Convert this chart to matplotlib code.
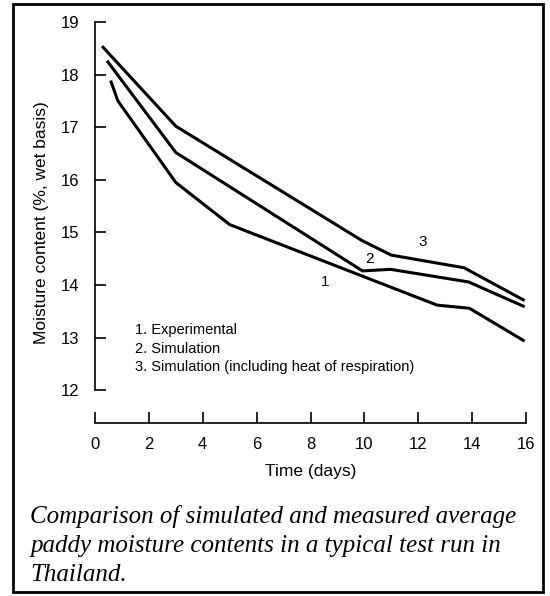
import matplotlib.pyplot as plt
from matplotlib.patches import Rectangle

# Curves (days, % moisture wet basis)
days_exp = [0.6, 0.85, 3.0, 5.0, 12.7, 13.9, 15.9]
mc_exp = [17.86, 17.5, 15.95, 15.15, 13.62, 13.56, 12.95]

days_sim = [0.48, 3.0, 9.93, 10.97, 13.87, 15.9]
mc_sim = [18.24, 16.52, 14.27, 14.30, 14.06, 13.6]

days_resp = [0.3, 3.0, 9.9, 11.0, 13.7, 15.9]
mc_resp = [18.52, 17.02, 14.85, 14.57, 14.33, 13.72]

curve_labels = ['1', '2', '3']
label_pos = [(8.55, 14.05), (10.2, 14.5), (12.15, 14.82)]
legend_lines = ['1. Experimental', '2. Simulation',
                '3. Simulation (including heat of respiration)']
caption = ['Comparison of simulated and measured average',
           'paddy moisture contents in a typical test run in',
           'Thailand.']

fig = plt.figure(figsize=(5.5, 5.96), dpi=100)
plt.rcParams['font.family'] = ['Liberation Sans', 'DejaVu Sans']

# page border
fig.patches.append(Rectangle((13 / 550, 4 / 596), 530 / 550, 588 / 596,
                             transform=fig.transFigure, fill=False,
                             edgecolor='black', linewidth=2))

ax = fig.add_axes([95 / 550, 1 - 423 / 596, 431 / 550, 401 / 596])
ax.plot(days_exp, mc_exp, color='black', linewidth=2.2)
ax.plot(days_sim, mc_sim, color='black', linewidth=2.2)
ax.plot(days_resp, mc_resp, color='black', linewidth=2.2)

for lab, (x, y) in zip(curve_labels, label_pos):
    ax.text(x, y, lab, fontsize=11, ha='center', va='center')

for i, line in enumerate(legend_lines):
    ax.text(1.49, 13.14 - i * 0.35, line, fontsize=10.5, ha='left', va='center')

ax.set_xlim(0, 16)
ax.set_ylim(11.38, 19)
ax.set_xticks(range(0, 17, 2))
ax.set_yticks(range(12, 20))
ax.spines['top'].set_visible(False)
ax.spines['right'].set_visible(False)
ax.spines['left'].set_bounds(12, 19)
ax.spines['left'].set_linewidth(1.2)
ax.spines['bottom'].set_linewidth(1.2)
ax.tick_params(axis='both', direction='in', length=8, width=1.2,
               labelsize=12)
ax.tick_params(axis='y', pad=11)
ax.tick_params(axis='x', pad=10)
ax.set_ylabel('Moisture content (%, wet basis)', fontsize=12.5, labelpad=9)
ax.set_xlabel('Time (days)', fontsize=12.5, labelpad=9)

for i, line in enumerate(caption):
    fig.text(30 / 550, 1 - (517 + i * 29) / 596, line, fontsize=18,
             family='Liberation Serif', style='italic', va='center')

fig.savefig('out.png', dpi=100)
